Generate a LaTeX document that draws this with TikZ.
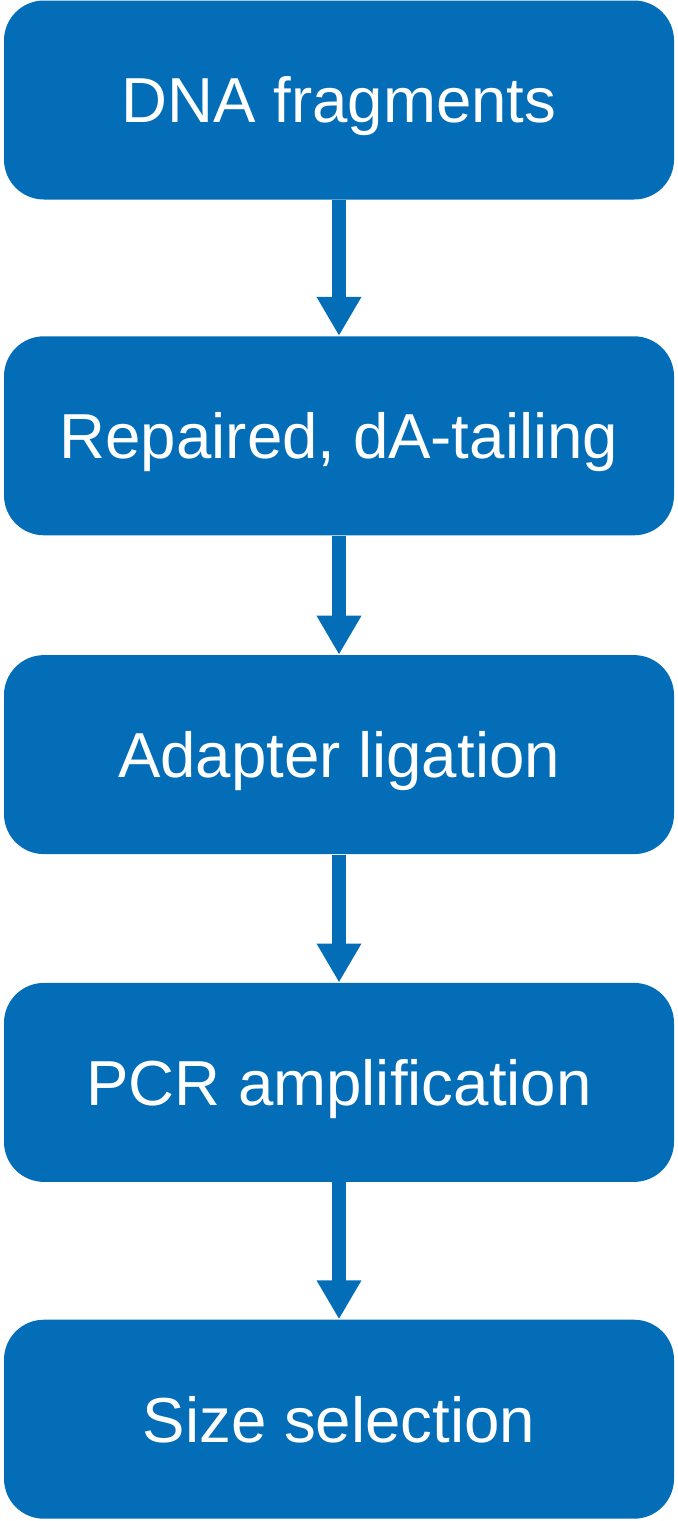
\documentclass[tikz,border=0pt]{standalone}
\usepackage{fontspec}
\setmainfont{Liberation Sans}
\usepackage{xcolor}
\usetikzlibrary{arrows.meta, positioning}

\definecolor{stepblue}{HTML}{036EB7}

\begin{document}
\begin{tikzpicture}[
  node distance = 66pt,
  box/.style = {fill=stepblue, rounded corners=20pt, align=center, text=white,
                font=\fontsize{31.8}{38}\selectfont,
                text height=22.8pt, text depth=0pt,
                minimum width=335pt, minimum height=99.5pt, inner sep=0pt},
  flow/.style = {stepblue, line width=7pt,
                 -{Triangle[width=21pt, length=19.5pt]}}
]
  \useasboundingbox (0,0) rectangle (339pt,-760.5pt);

  \node[box] (frag) at (169.5pt,-50pt) {DNA fragments};
  \node[box, below=68pt of frag]   (repair) {Repaired, dA-tailing};
  \node[box, below=59.5pt of repair] (adapt)  {Adapter ligation};
  \node[box, below=64pt of adapt]  (pcr)    {PCR amplification};
  \node[box, below=68.5pt of pcr]  (size)   {Size selection};

  \draw[flow] (frag)   -- (repair);
  \draw[flow] (repair) -- (adapt);
  \draw[flow] (adapt)  -- (pcr);
  \draw[flow] (pcr)    -- (size);
\end{tikzpicture}
\end{document}
